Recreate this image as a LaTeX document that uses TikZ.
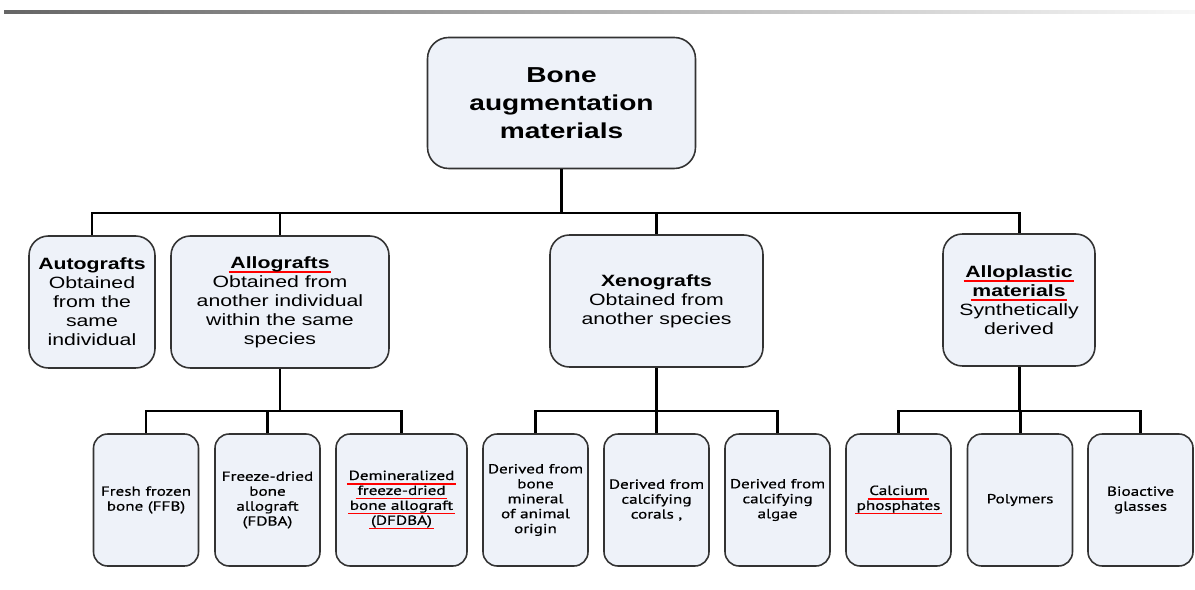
\documentclass[tikz,border=0pt]{standalone}
\usepackage{fontspec}
\setmainfont[FakeStretch=1.3]{Liberation Sans}
\newfontfamily\leaffont[FakeStretch=1.3,FakeBold=0.6]{PT Sans}
\usepackage{xcolor}

\newcommand{\redul}[1]{\setbox0\hbox{#1}\leavevmode\rlap{\kern-1pt\textcolor{red}{\rule[-2.6pt]{\dimexpr\wd0+2pt\relax}{1pt}}}\box0}

\begin{document}
\begin{tikzpicture}[x=0.02cm,y=-0.02cm,
    box/.style={draw=black!80,fill=boxfill,line width=0.9pt,align=center,inner sep=0pt},
    head/.style={box,rounded corners=12pt,minimum width=5.36cm,minimum height=2.62cm,font=\fontsize{12.3}{15.9}\selectfont\bfseries},
    kind/.style={box,rounded corners=11pt,minimum height=2.64cm,font=\fontsize{9.3}{10.8}\selectfont},
    leaf/.style={box,rounded corners=8pt,minimum width=2.1cm,minimum height=2.64cm,font=\leaffont\fontsize{7.5}{8.5}\selectfont},
    link/.style={line width=1.7pt}]
    \definecolor{boxfill}{RGB}{238,242,249};
    \useasboundingbox (0,0) rectangle (1195,590);
    \shade[left color=black!60,right color=black!3] (4,11) rectangle (1195,13.5);

    \node[head] (root) at (561.5,103) {Bone\\augmentation\\materials};

    \node[kind,minimum width=2.52cm] (auto) at (92,302) {\textbf{Autografts}\\Obtained\\from the\\same\\individual};
    \node[kind,minimum width=4.36cm] (allo) at (280,302) {\textbf{\redul{Allografts}}\\Obtained from\\another individual\\within the same\\species};
    \node[kind,minimum width=4.26cm] (xeno) at (656.5,301) {\textbf{Xenografts}\\Obtained from\\another species};
    \node[kind,minimum width=3.04cm] (plast) at (1019,300) {\textbf{\redul{Alloplastic}}\\\textbf{\redul{materials}}\\Synthetically\\derived};

    \node[leaf] (ffb) at (146,500) {Fresh frozen\\bone (FFB)};
    \node[leaf] (fdba) at (267.5,500) {Freeze-dried\\bone\\allograft\\(FDBA)};
    \node[leaf,minimum width=2.62cm] (dfdba) at (401.5,500) {\redul{Demineralized}\\\redul{freeze-dried}\\\redul{bone allograft}\\\redul{(DFDBA)}};
    \node[leaf] (mineral) at (535.5,500) {Derived from\\bone\\mineral\\of animal\\origin};
    \node[leaf] (corals) at (656.5,500) {Derived from\\calcifying\\corals ,};
    \node[leaf] (algae) at (777.5,500) {Derived from\\calcifying\\algae};
    \node[leaf] (phos) at (898.5,500) {\redul{Calcium}\\\redul{phosphates}};
    \node[leaf] (poly) at (1020,500) {Polymers};
    \node[leaf] (glass) at (1140.5,500) {Bioactive\\glasses};

    \coordinate (bar) at (0,213);
    \coordinate (sub) at (0,411);
    \foreach \c in {auto,allo,xeno,plast}
        \draw[link] (root.south) |- (\c.north|-bar) -- (\c.north);
    \foreach \p/\c in {allo/ffb,allo/fdba,allo/dfdba,xeno/mineral,xeno/corals,xeno/algae,plast/phos,plast/poly,plast/glass}
        \draw[link] (\p.south) |- (\c.north|-sub) -- (\c.north);
\end{tikzpicture}
\end{document}
